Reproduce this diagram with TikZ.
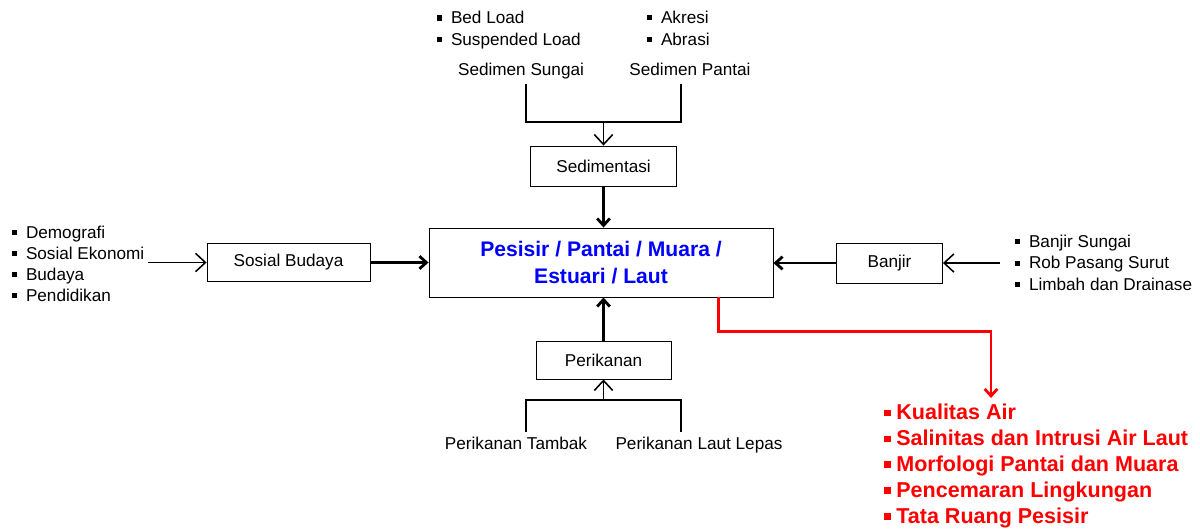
\documentclass[tikz,border=0pt]{standalone}
\usepackage{fontspec}
\setmainfont{Liberation Sans}
\usetikzlibrary{arrows.meta}
\newcommand{\sqb}[1][0.5em]{\rule[0.17em]{0.3em}{0.3em}\hspace{#1}}

\begin{document}
\begin{tikzpicture}[x=0.025cm, y=-0.025cm, >={Straight Barb[length=5pt,width=9pt]},
    font=\fontsize{12.2}{15}\selectfont,
    box/.style={draw, line width=0.6pt, inner sep=0pt, minimum width=#1},
    lbl/.style={text height=8.8pt, text depth=2.6pt},
    thn/.style={line width=1.1pt, -{Straight Barb[length=7pt,width=13pt]}},
    thk/.style={line width=2pt},
    lst/.style={align=left, anchor=west, inner sep=0pt}]
    \useasboundingbox (0,0) rectangle (1200,528);
    % kotak
    \node[box=8.6cm, minimum height=1.725cm, align=center, text=blue, font=\fontsize{15}{19}\selectfont\bfseries] (ppm) at (601,262.5) {Pesisir / Pantai / Muara /\\Estuari / Laut};
    \node[box=3.65cm, minimum height=1cm] (sed) at (603.5,166) {Sedimentasi};
    \node[box=4.075cm, minimum height=0.95cm] (sb) at (288.5,262.5) {Sosial Budaya};
    \node[box=2.65cm, minimum height=1cm] (bj) at (889.5,263) {Banjir};
    \node[box=3.375cm, minimum height=0.95cm] (per) at (603.5,360) {Perikanan};
    % label
    \node[lbl] (ss) at (521,71) {Sedimen Sungai};
    \node[lbl] (sp) at (690,71) {Sedimen Pantai};
    \node[lbl] (pt) at (516,445) {Perikanan Tambak};
    \node[lbl] (pl) at (699,445) {Perikanan Laut Lepas};
    % daftar
    \node[lst, font=\fontsize{12.2}{15.6}\selectfont] (ls1) at (437,30) {\sqb Bed Load\\\sqb Suspended Load};
    \node[lst, font=\fontsize{12.2}{15.6}\selectfont] (ls2) at (647,28) {\sqb Akresi\\\sqb Abrasi};
    \node[lst] (lk) at (12,263.5) {\sqb Demografi\\\sqb Sosial Ekonomi\\\sqb Budaya\\\sqb Pendidikan};
    \node[lst, font=\fontsize{12.2}{15.2}\selectfont] (lb) at (1015,262.5) {\sqb Banjir Sungai\\\sqb Rob Pasang Surut\\\sqb Limbah dan Drainase};
    \node[lst, text=red, font=\fontsize{15.3}{18.4}\selectfont\bfseries] (lm) at (884,466) {\sqb[4pt]Kualitas Air\\\sqb[4pt]Salinitas dan Intrusi Air Laut\\\sqb[4pt]Morfologi Pantai dan Muara\\\sqb[4pt]Pencemaran Lingkungan\\\sqb[4pt]Tata Ruang Pesisir};
    \coordinate (sj) at (603.5,122);
    \coordinate (pj) at (603.5,400);
    \coordinate (kin) at (148,262.5);
    \coordinate (bin) at (1000,263);
    \coordinate (mt) at (991,398);
    % garis
    \draw[line width=1.1pt] ([xshift=3.5pt]ss.south) |- (sj) -| ([xshift=-6.4pt]sp.south);
    \draw[thn] (sj) -- (sed);
    \draw[thk,->] (sed) -- (sed |- ppm.north);
    \draw[thn] (kin) -- (sb);
    \draw[thk,->] (sb) -- (sb -| ppm.west);
    \draw[thn] (bin) -- (bj);
    \draw[thk,->] (bj) -- (bj -| ppm.east);
    \draw[line width=1.1pt] ([xshift=7pt]pt.north) |- (pj) -| ([xshift=-12.8pt]pl.north);
    \draw[thn] (pj) -- (per);
    \draw[thk,->] (per) -- (per |- ppm.south);
    \draw[red, thk,->] ([xshift=83.6pt]ppm.south) -- ++(0,34) -| (mt);
\end{tikzpicture}
\end{document}
